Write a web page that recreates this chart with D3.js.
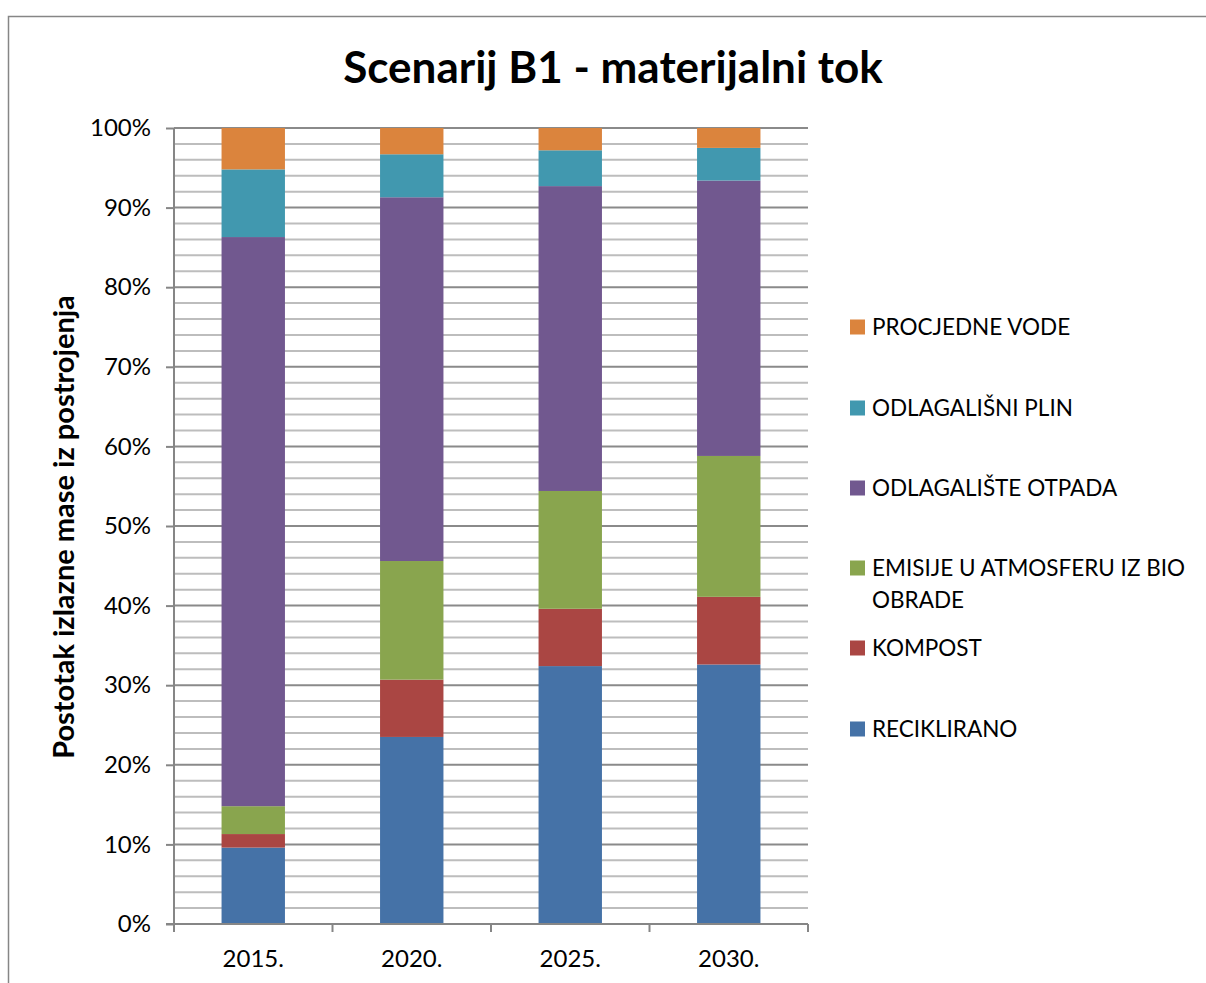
<!DOCTYPE html>
<html>
<head>
<meta charset="utf-8">
<script src="https://cdn.jsdelivr.net/npm/d3@7"></script>
<style>
  html, body { margin: 0; padding: 0; background: #fff; }
  svg { display: block; }
  text { font-family: Lato, "Open Sans", sans-serif; fill: #000; }
</style>
</head>
<body>
<svg id="chart" width="1206" height="983"></svg>
<script>
// Years on the category axis
const years = ["2015.", "2020.", "2025.", "2030."];

// Series shares (%) per year, bottom to top of each stacked bar
const reciklirano   = [9.6, 23.5, 32.4, 32.6];
const kompost       = [1.7, 7.2, 7.2, 8.5];
const emisije       = [3.5, 14.9, 14.8, 17.7];
const odlagaliste   = [71.5, 45.7, 38.3, 34.6];
const odlagalisniPlin = [8.5, 5.4, 4.5, 4.1];
const procjedneVode = [5.2, 3.3, 2.8, 2.5];

const seriesNames = [
  "RECIKLIRANO",
  "KOMPOST",
  "EMISIJE U ATMOSFERU IZ BIO OBRADE",
  "ODLAGALIŠTE OTPADA",
  "ODLAGALIŠNI PLIN",
  "PROCJEDNE VODE"
];
const seriesValues = [reciklirano, kompost, emisije, odlagaliste, odlagalisniPlin, procjedneVode];
const seriesColors = ["#4572A7", "#AA4643", "#89A54E", "#71588F", "#4198AF", "#DB843D"];

const yTickValues = d3.range(0, 101, 10);
const yMinorValues = d3.range(0, 101, 2);

const svg = d3.select("#chart");

// Chart frame
svg.append("rect")
  .attr("x", 8.5).attr("y", 16.5)
  .attr("width", 1400).attr("height", 1200)
  .attr("fill", "#fff").attr("stroke", "#868686").attr("stroke-width", 1.5);

const plot = { left: 174, right: 808, top: 128, bottom: 924 };

const x = d3.scaleBand().domain(years).range([plot.left, plot.right]).paddingInner(0.6).paddingOuter(0.3);
const xBoundary = d3.scaleLinear().domain([0, years.length]).range([plot.left, plot.right]);
const y = d3.scaleLinear().domain([0, 100]).range([plot.bottom, plot.top]);

// Gridlines: minor every 2 %, major every 10 %
svg.append("g").selectAll("line")
  .data(yMinorValues.filter(v => v % 10 !== 0))
  .join("line")
  .attr("x1", plot.left).attr("x2", plot.right)
  .attr("y1", d => y(d)).attr("y2", d => y(d))
  .attr("stroke", "#bdbdbd").attr("stroke-width", 2);

svg.append("g").selectAll("line")
  .data(yTickValues.filter(v => v > 0))
  .join("line")
  .attr("x1", plot.left).attr("x2", plot.right)
  .attr("y1", d => y(d)).attr("y2", d => y(d))
  .attr("stroke", "#8a8a8a").attr("stroke-width", 2);

// Stacked bars
const rows = years.map((yr, i) => {
  const r = { year: yr };
  seriesNames.forEach((n, s) => { r[n] = seriesValues[s][i]; });
  return r;
});
const stacked = d3.stack().keys(seriesNames)(rows);

svg.append("g").selectAll("g")
  .data(stacked)
  .join("g")
  .attr("fill", (d, i) => seriesColors[i])
  .selectAll("rect")
  .data(d => d)
  .join("rect")
  .attr("x", d => x(d.data.year))
  .attr("width", x.bandwidth())
  .attr("y", d => y(d[1]))
  .attr("height", d => y(d[0]) - y(d[1]));

// Y axis
const yAxis = d3.axisLeft(y).tickValues(yTickValues).tickFormat(d => d + "%").tickSize(8).tickPadding(15);
const gy = svg.append("g").attr("transform", `translate(${plot.left},0)`).call(yAxis);
gy.select(".domain").attr("stroke", "#868686").attr("stroke-width", 2).attr("d", `M0,${plot.top}V${plot.bottom}`);
gy.selectAll(".tick line").attr("stroke", "#868686").attr("stroke-width", 2);
gy.selectAll(".tick text").style("font-family", "Lato, sans-serif").style("font-size", "24px").attr("fill", "#000");

// X axis with ticks at category boundaries
const gx = svg.append("g").attr("transform", `translate(0,${plot.bottom})`);
gx.append("line")
  .attr("x1", plot.left - 8).attr("x2", plot.right)
  .attr("stroke", "#868686").attr("stroke-width", 2);
gx.selectAll("line.tk")
  .data(d3.range(years.length + 1))
  .join("line").attr("class", "tk")
  .attr("x1", d => xBoundary(d)).attr("x2", d => xBoundary(d))
  .attr("y1", 0).attr("y2", 8)
  .attr("stroke", "#868686").attr("stroke-width", 2);
gx.selectAll("text")
  .data(years)
  .join("text")
  .attr("x", d => x(d) + x.bandwidth() / 2)
  .attr("y", 43)
  .attr("text-anchor", "middle")
  .style("font-size", "24px")
  .text(d => d);

// Title
svg.append("text")
  .attr("x", 613).attr("y", 83)
  .attr("text-anchor", "middle")
  .style("font-size", "44px").style("font-weight", "bold")
  .text("Scenarij B1 - materijalni tok");

// Y axis title
svg.append("text")
  .attr("transform", "translate(74,527) rotate(-90)")
  .attr("text-anchor", "middle")
  .style("font-size", "29px").style("font-weight", "bold")
  .text("Postotak izlazne mase iz postrojenja");

// Legend (top entry = top of stack)
const legendRows = [
  { s: 5, cy: 327 }, { s: 4, cy: 408 }, { s: 3, cy: 488 },
  { s: 2, cy: 568 }, { s: 1, cy: 648 }, { s: 0, cy: 729 }
];
const legend = svg.append("g");
const legendMaxWidth = 330;
legendRows.forEach(r => {
  const g = legend.append("g");
  g.append("rect")
    .attr("x", 850).attr("y", r.cy - 7.5)
    .attr("width", 15).attr("height", 15)
    .attr("fill", seriesColors[r.s]);
  const t = g.append("text")
    .attr("x", 872).attr("y", r.cy + 8)
    .style("font-size", "22.5px");
  // word wrap within the legend width
  const words = seriesNames[r.s].split(" ");
  let line = [];
  let tspan = t.append("tspan").attr("x", 872).attr("dy", 0);
  words.forEach(w => {
    line.push(w);
    tspan.text(line.join(" "));
    if (tspan.node().getComputedTextLength() > legendMaxWidth && line.length > 1) {
      line.pop();
      tspan.text(line.join(" "));
      line = [w];
      tspan = t.append("tspan").attr("x", 872).attr("dy", 32).text(w);
    }
  });
});
</script>
</body>
</html>
